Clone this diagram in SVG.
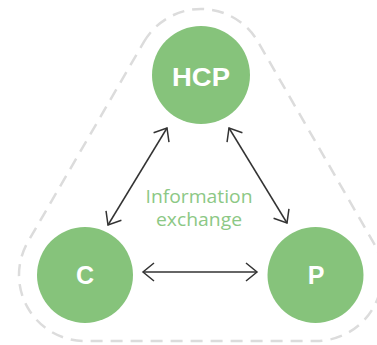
<svg xmlns="http://www.w3.org/2000/svg" width="377" height="345" viewBox="0 0 377 345">
<defs>
<style>
.node{fill:#86c37b}
.lbl{font-family:"Liberation Sans",Arial,sans-serif;font-weight:bold;font-size:25px;fill:#fff;text-anchor:middle}
.conn{stroke:#333;stroke-width:1.5;fill:none;marker-start:url(#ah);marker-end:url(#ah)}
.note{font-family:"Open Sans","Liberation Sans",sans-serif;font-size:18px;fill:#8cc885;text-anchor:middle}
</style>
<marker id="ah" viewBox="-12 -10 14 20" markerWidth="14" markerHeight="20" refX="0" refY="0" orient="auto-start-reverse" markerUnits="userSpaceOnUse">
<path d="M-11 -9 L0 0 L-11 9" fill="none" stroke="#333" stroke-width="1.5"/>
</marker>
</defs>
<path id="boundary" d="M143.9 41.9 A66 66 0 0 1 258.2 42.1 L373.2 242.1 A66 66 0 0 1 316 341 L85 341 A66 66 0 0 1 27.9 241.9 Z" fill="none" stroke="#dcdcdc" stroke-width="2.5" stroke-dasharray="12 8"/>
<g id="connectors">
<line class="conn" x1="167" y1="128" x2="108" y2="225"/>
<line class="conn" x1="229" y1="128" x2="287" y2="223"/>
<line class="conn" x1="143" y1="272" x2="257" y2="272"/>
</g>
<g id="hcp"><circle class="node" cx="201" cy="75" r="49"/><text class="lbl" x="201" y="86" textLength="58" lengthAdjust="spacingAndGlyphs">HCP</text></g>
<g id="c"><circle class="node" cx="85" cy="275" r="48"/><text class="lbl" x="85" y="284">C</text></g>
<g id="p"><circle class="node" cx="315.5" cy="275" r="48"/><text class="lbl" x="316" y="284">P</text></g>
<g id="info"><text class="note" x="199" y="203" textLength="107" lengthAdjust="spacingAndGlyphs">Information</text><text class="note" x="199" y="226" textLength="86" lengthAdjust="spacingAndGlyphs">exchange</text></g>
</svg>
